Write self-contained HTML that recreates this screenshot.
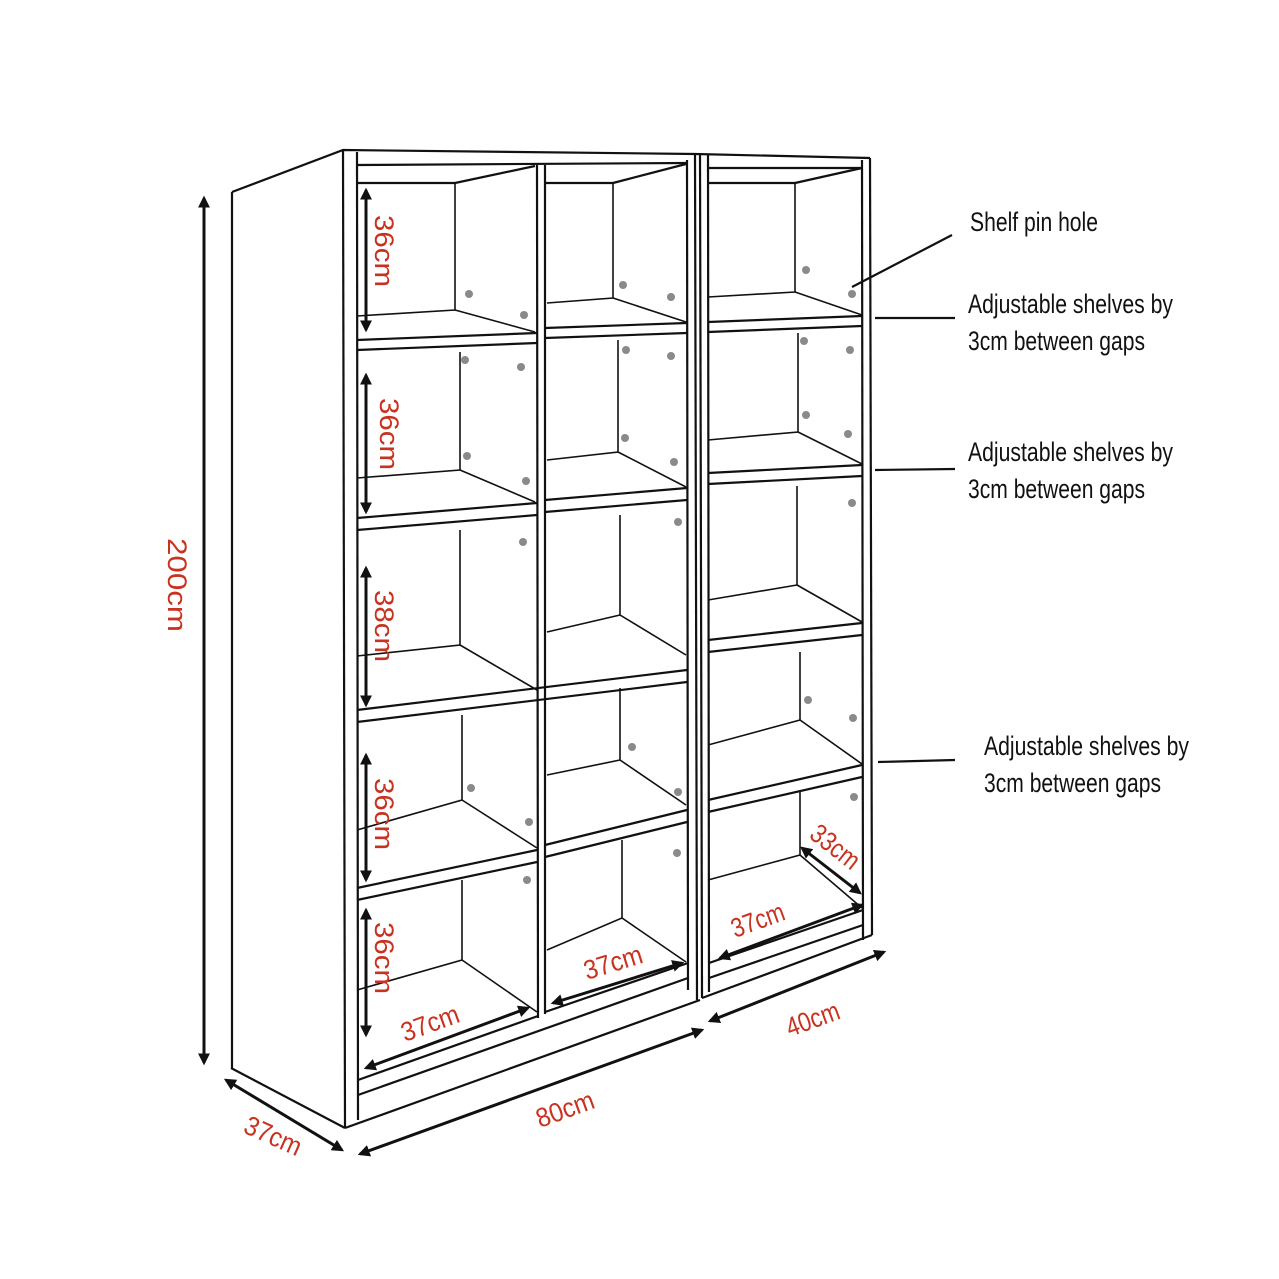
<!DOCTYPE html>
<html><head><meta charset="utf-8"><style>
html,body{margin:0;padding:0;background:#fff}
svg{display:block}
.l{stroke:#111;stroke-width:2.2;fill:none}
.t{stroke:#111;stroke-width:1.6;fill:none}
.a{stroke:#111;stroke-width:3;fill:none}
.r{fill:#c8321f;font-family:"Liberation Sans Narrow","Liberation Sans",sans-serif;font-size:27px}
.k{fill:#111;font-family:"Liberation Sans Narrow","Liberation Sans",sans-serif;font-size:27px}
circle{fill:#8a8a8a}
</style></head><body>
<svg width="1279" height="1279" viewBox="0 0 1279 1279" xmlns="http://www.w3.org/2000/svg">
<defs>
<marker id="ah" viewBox="0 0 10 10" refX="8" refY="5" markerWidth="4" markerHeight="4" orient="auto-start-reverse"><path d="M0,0 L10,5 L0,10 z" fill="#111"/></marker>
</defs>
<polyline class="l" points="232,192 343,150 695,154 870,158"/>
<line class="l" x1="232" y1="192" x2="232" y2="1068"/>
<line class="l" x1="231" y1="1068" x2="345" y2="1128"/>
<line class="l" x1="343" y1="150" x2="345" y2="1128"/>
<line class="l" x1="357" y1="152" x2="358" y2="1120"/>
<line class="l" x1="345" y1="1128" x2="700" y2="1000"/>
<line class="l" x1="358" y1="1095" x2="688" y2="978"/>
<line class="l" x1="358" y1="1080" x2="538" y2="1016"/>
<line class="l" x1="545" y1="1012" x2="688" y2="963"/>
<line class="l" x1="687" y1="160" x2="688" y2="990"/>
<line class="l" x1="695" y1="154" x2="697" y2="1000"/>
<line class="l" x1="537" y1="165" x2="538" y2="1018"/>
<line class="l" x1="545" y1="165" x2="545" y2="1014"/>
<line class="l" x1="357" y1="165" x2="687" y2="163"/>
<line class="l" x1="357" y1="183" x2="455" y2="183"/>
<line class="l" x1="455" y1="183" x2="535" y2="166"/>
<line class="l" x1="545" y1="183" x2="613" y2="183"/>
<line class="l" x1="613" y1="183" x2="686" y2="164"/>
<line class="l" x1="357" y1="340" x2="537" y2="333"/><line class="l" x1="357" y1="350" x2="537" y2="343"/>
<line class="l" x1="545" y1="328" x2="687" y2="323"/><line class="l" x1="545" y1="338" x2="687" y2="333"/>
<line class="l" x1="357" y1="518" x2="537" y2="503"/><line class="l" x1="357" y1="530" x2="537" y2="515"/>
<line class="l" x1="545" y1="500" x2="687" y2="488"/><line class="l" x1="545" y1="512" x2="687" y2="500"/>
<line class="l" x1="357" y1="710" x2="687" y2="670"/><line class="l" x1="357" y1="722" x2="687" y2="682"/>
<line class="l" x1="357" y1="888" x2="537" y2="850"/><line class="l" x1="357" y1="900" x2="537" y2="862"/>
<line class="l" x1="545" y1="845" x2="687" y2="810"/><line class="l" x1="545" y1="857" x2="687" y2="822"/>
<polyline class="t" points="455,183 455,310 357,316"/><line class="t" x1="455" y1="310" x2="535" y2="332"/>
<polyline class="t" points="460,352 460,470 357,478"/><line class="t" x1="460" y1="470" x2="535" y2="502"/>
<polyline class="t" points="460,530 460,645 357,656"/><line class="t" x1="460" y1="645" x2="537" y2="690"/>
<polyline class="t" points="462,715 462,800 357,830"/><line class="t" x1="462" y1="800" x2="537" y2="848"/>
<polyline class="t" points="462,880 462,960 357,990"/><line class="t" x1="462" y1="960" x2="537" y2="1012"/>
<polyline class="t" points="613,183 613,298 547,303"/><line class="t" x1="613" y1="298" x2="686" y2="322"/>
<polyline class="t" points="618,340 618,452 547,460"/><line class="t" x1="618" y1="452" x2="686" y2="487"/>
<polyline class="t" points="620,515 620,615 547,632"/><line class="t" x1="620" y1="615" x2="686" y2="655"/>
<polyline class="t" points="620,688 620,760 547,775"/><line class="t" x1="620" y1="760" x2="686" y2="805"/>
<polyline class="t" points="622,840 622,918 547,950"/><line class="t" x1="622" y1="918" x2="686" y2="962"/>
<line class="l" x1="700" y1="153" x2="702" y2="998"/>
<line class="l" x1="708" y1="155" x2="709" y2="992"/>
<line class="l" x1="862" y1="160" x2="863" y2="940"/>
<line class="l" x1="870" y1="158" x2="872" y2="935"/>
<line class="l" x1="702" y1="998" x2="872" y2="935"/>
<line class="l" x1="709" y1="978" x2="863" y2="925"/>
<line class="l" x1="709" y1="963" x2="863" y2="910"/>
<line class="l" x1="708" y1="168" x2="862" y2="168"/>
<line class="l" x1="708" y1="183" x2="795" y2="183"/>
<line class="l" x1="795" y1="183" x2="862" y2="168"/>
<line class="l" x1="708" y1="322" x2="862" y2="316"/><line class="l" x1="708" y1="332" x2="862" y2="326"/>
<line class="l" x1="708" y1="473" x2="862" y2="465"/><line class="l" x1="708" y1="484" x2="862" y2="476"/>
<line class="l" x1="708" y1="640" x2="862" y2="623"/><line class="l" x1="708" y1="652" x2="862" y2="635"/>
<line class="l" x1="708" y1="800" x2="862" y2="765"/><line class="l" x1="708" y1="812" x2="862" y2="777"/>
<polyline class="t" points="795,183 795,292 708,297"/><line class="t" x1="795" y1="292" x2="862" y2="315"/>
<polyline class="t" points="798,333 798,432 708,440"/><line class="t" x1="798" y1="432" x2="862" y2="464"/>
<polyline class="t" points="797,486 797,585 708,600"/><line class="t" x1="797" y1="585" x2="862" y2="622"/>
<polyline class="t" points="800,652 800,720 708,745"/><line class="t" x1="800" y1="720" x2="862" y2="764"/>
<polyline class="t" points="800,790 800,855 708,880"/><line class="t" x1="800" y1="855" x2="862" y2="908"/>
<g>
<circle cx="469" cy="294" r="4"/><circle cx="524" cy="315" r="4"/>
<circle cx="465" cy="360" r="4"/><circle cx="521" cy="367" r="4"/><circle cx="467" cy="456" r="4"/><circle cx="526" cy="481" r="4"/>
<circle cx="523" cy="542" r="4"/>
<circle cx="471" cy="788" r="4"/><circle cx="529" cy="822" r="4"/><circle cx="527" cy="880" r="4"/>
<circle cx="623" cy="285" r="4"/><circle cx="671" cy="297" r="4"/>
<circle cx="626" cy="350" r="4"/><circle cx="671" cy="356" r="4"/><circle cx="625" cy="438" r="4"/><circle cx="674" cy="462" r="4"/>
<circle cx="678" cy="522" r="4"/><circle cx="632" cy="747" r="4"/><circle cx="678" cy="792" r="4"/><circle cx="677" cy="853" r="4"/>
<circle cx="806" cy="270" r="4"/><circle cx="852" cy="294" r="4"/>
<circle cx="804" cy="341" r="4"/><circle cx="850" cy="350" r="4"/><circle cx="806" cy="415" r="4"/><circle cx="848" cy="434" r="4"/>
<circle cx="852" cy="503" r="4"/><circle cx="808" cy="700" r="4"/><circle cx="853" cy="718" r="4"/><circle cx="854" cy="797" r="4"/>
</g>
<line class="a" x1="204" y1="198" x2="204" y2="1063" marker-start="url(#ah)" marker-end="url(#ah)"/>
<line class="a" x1="366" y1="190" x2="366" y2="330" marker-start="url(#ah)" marker-end="url(#ah)"/>
<line class="a" x1="366" y1="375" x2="366" y2="512" marker-start="url(#ah)" marker-end="url(#ah)"/>
<line class="a" x1="366" y1="568" x2="366" y2="705" marker-start="url(#ah)" marker-end="url(#ah)"/>
<line class="a" x1="366" y1="755" x2="366" y2="880" marker-start="url(#ah)" marker-end="url(#ah)"/>
<line class="a" x1="366" y1="910" x2="366" y2="1035" marker-start="url(#ah)" marker-end="url(#ah)"/>
<line class="a" x1="366" y1="1068" x2="528" y2="1008" marker-start="url(#ah)" marker-end="url(#ah)"/>
<line class="a" x1="553" y1="1003" x2="682" y2="963" marker-start="url(#ah)" marker-end="url(#ah)"/>
<line class="a" x1="720" y1="958" x2="862" y2="905" marker-start="url(#ah)" marker-end="url(#ah)"/>
<line class="a" x1="802" y1="848" x2="860" y2="893" marker-start="url(#ah)" marker-end="url(#ah)"/>
<line class="a" x1="226" y1="1080" x2="342" y2="1150" marker-start="url(#ah)" marker-end="url(#ah)"/>
<line class="a" x1="360" y1="1154" x2="702" y2="1030" marker-start="url(#ah)" marker-end="url(#ah)"/>
<line class="a" x1="710" y1="1021" x2="884" y2="952" marker-start="url(#ah)" marker-end="url(#ah)"/>
<text class="r" transform="translate(168,538) rotate(90)" textLength="94" lengthAdjust="spacingAndGlyphs">200cm</text>
<text class="r" transform="translate(375,215) rotate(90)" textLength="72" lengthAdjust="spacingAndGlyphs">36cm</text>
<text class="r" transform="translate(380,398) rotate(90)" textLength="72" lengthAdjust="spacingAndGlyphs">36cm</text>
<text class="r" transform="translate(375,590) rotate(90)" textLength="72" lengthAdjust="spacingAndGlyphs">38cm</text>
<text class="r" transform="translate(375,778) rotate(90)" textLength="72" lengthAdjust="spacingAndGlyphs">36cm</text>
<text class="r" transform="translate(375,922) rotate(90)" textLength="72" lengthAdjust="spacingAndGlyphs">36cm</text>
<text class="r" transform="translate(405,1042) rotate(-20)" textLength="60" lengthAdjust="spacingAndGlyphs">37cm</text>
<text class="r" transform="translate(587,980) rotate(-17)" textLength="60" lengthAdjust="spacingAndGlyphs">37cm</text>
<text class="r" transform="translate(735,938) rotate(-20)" textLength="55" lengthAdjust="spacingAndGlyphs">37cm</text>
<text class="r" transform="translate(808,837) rotate(38)" textLength="55" lengthAdjust="spacingAndGlyphs">33cm</text>
<text class="r" transform="translate(242,1132) rotate(24)" textLength="60" lengthAdjust="spacingAndGlyphs">37cm</text>
<text class="r" transform="translate(540,1128) rotate(-20)" textLength="60" lengthAdjust="spacingAndGlyphs">80cm</text>
<text class="r" transform="translate(790,1037) rotate(-20)" textLength="55" lengthAdjust="spacingAndGlyphs">40cm</text>
<line class="l" x1="952" y1="235" x2="852" y2="287"/>
<line class="l" x1="875" y1="318" x2="955" y2="318"/>
<line class="l" x1="875" y1="470" x2="955" y2="469"/>
<line class="l" x1="878" y1="762" x2="955" y2="760"/>
<text class="k" x="970" y="231" textLength="128" lengthAdjust="spacingAndGlyphs">Shelf pin hole</text>
<text class="k" x="968" y="313" textLength="205" lengthAdjust="spacingAndGlyphs">Adjustable shelves by</text>
<text class="k" x="968" y="350" textLength="177" lengthAdjust="spacingAndGlyphs">3cm between gaps</text>
<text class="k" x="968" y="461" textLength="205" lengthAdjust="spacingAndGlyphs">Adjustable shelves by</text>
<text class="k" x="968" y="498" textLength="177" lengthAdjust="spacingAndGlyphs">3cm between gaps</text>
<text class="k" x="984" y="755" textLength="205" lengthAdjust="spacingAndGlyphs">Adjustable shelves by</text>
<text class="k" x="984" y="792" textLength="177" lengthAdjust="spacingAndGlyphs">3cm between gaps</text>
</svg>
</body></html>
